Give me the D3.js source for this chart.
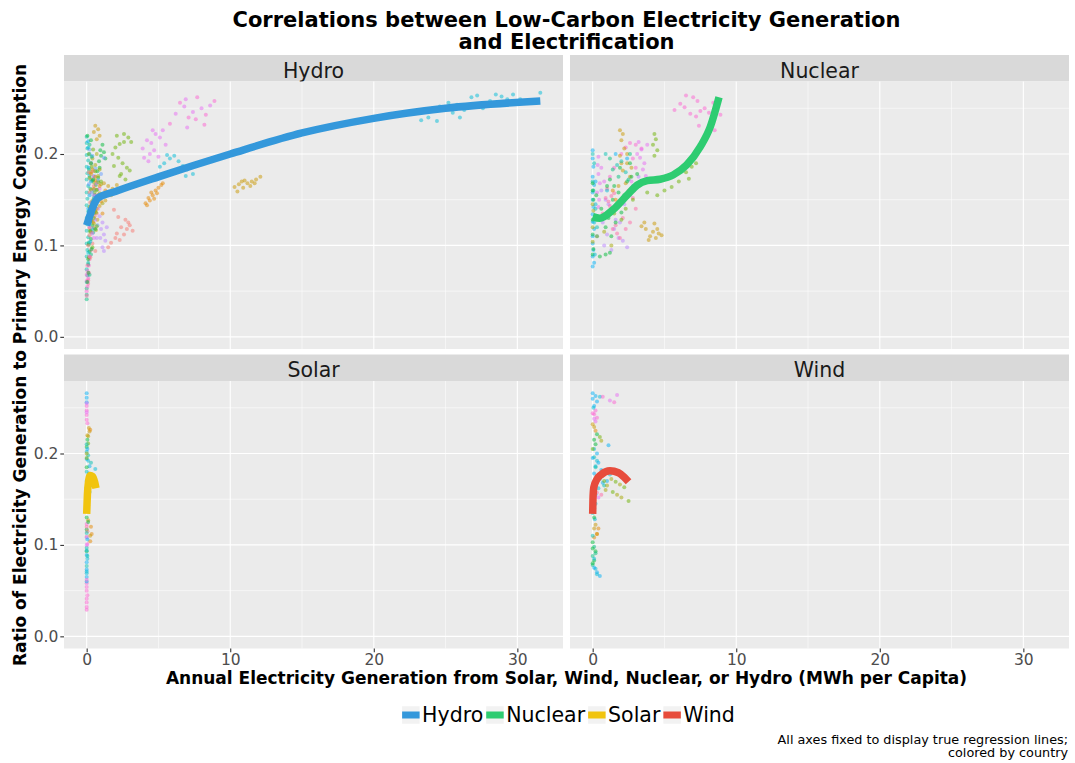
<!DOCTYPE html>
<html>
<head>
<meta charset="utf-8">
<script src="https://cdn.jsdelivr.net/npm/d3@7"></script>
<style>
  body { margin: 0; background: #ffffff; }
  svg { display: block; font-family: "DejaVu Sans", sans-serif; }
</style>
</head>
<body>
<svg id="chart" width="1075" height="763"></svg>
<script>
// ---- data -------------------------------------------------------------
// Country colour palette (15-level hue palette, one colour per country)
const countryColors = ["#F8766D", "#E58700", "#C99800", "#A3A500", "#6BB100",
  "#00BA38", "#00BF7D", "#00C0AF", "#00BCD8", "#00B0F6",
  "#619CFF", "#B983FF", "#E76BF3", "#FD61D1", "#FF67A4"];

const sources = ["Hydro", "Nuclear", "Solar", "Wind"];
const sourceColors = ["#3498DB", "#2ECC71", "#F1C40F", "#E74C3C"];

const xTicks = [0, 10, 20, 30];
const xMinor = [5, 15, 25];
const yTicks = [0.0, 0.1, 0.2];
const yMinor = [0.05, 0.15, 0.25];

// Observations: [country colour index, MWh per capita, ratio]
const hydroPoints = [
  [7,0,0.219],[7,0,0.212],[7,0.05,0.206],[7,0,0.199],[7,0.1,0.193],[7,0,0.186],[7,0.05,0.179],[7,0,0.172],
  [7,0.1,0.165],[7,0,0.158],[7,0.05,0.151],[7,0,0.144],[7,0.1,0.137],[7,0,0.13],[7,0.05,0.123],[7,0,0.116],
  [7,0.1,0.109],[7,0,0.102],[7,0.05,0.095],[7,0,0.088],[7,0.1,0.081],[7,0,0.074],[7,0.05,0.067],[7,0,0.06],
  [6,0,0.053],[6,0,0.046],[6,0,0.041],
  [13,0,0.05],[13,0.05,0.055],[13,0,0.061],[13,0.1,0.064],[13,0,0.068],[13,0.05,0.072],[13,0.15,0.078],
  [14,0,0.045],[14,0.1,0.058],[14,0.2,0.085],[14,0.3,0.095],
  [5,0.1,0.085],[5,0.2,0.093],[5,0.15,0.101],[5,0.3,0.107],[5,0.25,0.116],[5,0.4,0.122],[5,0.35,0.127],
  [5,0.5,0.135],[5,0.42,0.141],[5,0.6,0.146],[5,0.55,0.155],[5,0.72,0.161],[5,0.63,0.166],[5,0.8,0.174],
  [5,0.74,0.181],[5,0.9,0.185],[5,0.86,0.192],[5,1.0,0.198],[5,0.95,0.204],[5,1.1,0.21],[5,1.2,0.202],[5,1.3,0.195],
  [3,0.4,0.195],[3,0.6,0.188],[3,0.3,0.18],[3,0.8,0.176],[3,0.5,0.169],[3,0.7,0.161],[3,0.9,0.157],
  [3,0.4,0.149],[3,1.1,0.146],[3,0.6,0.138],[3,0.3,0.131],[3,0.5,0.124],
  [2,0.6,0.231],[2,0.8,0.227],[2,0.5,0.224],[2,0.9,0.22],[2,0.7,0.216],[2,1.2,0.168],[2,1.5,0.165],
  [2,1.8,0.162],[2,2.1,0.166],[2,1.4,0.158],[2,1.7,0.155],[2,2.2,0.159],[2,1.0,0.152],[2,1.3,0.149],[2,0.9,0.143],
  [0,0.3,0.172],[0,0.5,0.165],[0,0.2,0.158],[0,0.6,0.15],[0,0.4,0.143],[0,0.7,0.135],[0,0.3,0.128],
  [0,0.5,0.119],[0,0.2,0.111],[0,0.4,0.102],[0,0.6,0.094],
  [0,1.5,0.098],[0,1.7,0.103],[0,2.0,0.108],[0,2.3,0.106],[0,2.1,0.113],[0,2.6,0.112],[0,2.8,0.118],
  [0,2.4,0.12],[0,2.9,0.125],[0,2.2,0.131],[0,2.7,0.128],[0,3.0,0.122],[0,1.9,0.139],[0,3.2,0.116],
  [10,0.2,0.205],[10,0.4,0.198],[10,0.3,0.19],[10,0.6,0.184],[10,0.5,0.176],[10,0.8,0.171],[10,1.2,0.196],[10,1.0,0.178],
  [9,0.1,0.214],[9,0.2,0.2],[9,0.15,0.185],[9,0.3,0.17],[9,0.2,0.155],[9,0.1,0.14],[9,0.25,0.125],
  [11,0.9,0.132],[11,1.1,0.125],[11,1.0,0.118],[11,1.2,0.112],[11,1.3,0.105],[11,1.1,0.098],[11,0.8,0.14],
  [11,1.4,0.12],[11,0.7,0.108],
  [12,0.5,0.175],[12,0.7,0.168],[12,0.6,0.155],[12,0.9,0.162],[12,0.4,0.145],
  [6,0.2,0.21],[6,0.35,0.197],[6,0.15,0.183],[6,0.4,0.171],[6,0.25,0.162],[6,0.5,0.152],[6,0.3,0.139],
  [6,0.2,0.126],[6,0.45,0.114],[6,0.15,0.103],[6,0.3,0.09],[6,0.1,0.079],[6,0.2,0.068],
  [8,0.1,0.207],[8,0.3,0.19],[8,0.2,0.176],[8,0.5,0.161],[8,0.35,0.147],[8,0.15,0.133],[8,0.4,0.118],
  [8,0.25,0.104],[8,0.1,0.092],
  [4,0.15,0.2],[4,0.45,0.205],[4,0.35,0.186],[4,0.2,0.174],[4,0.55,0.158],[4,0.3,0.143],[4,0.65,0.136],
  [4,0.25,0.115],[4,0.4,0.098],[4,0.15,0.087],
  [3,0.7,0.2],[3,0.9,0.183],[3,1.0,0.167],[3,0.85,0.152],[3,0.2,0.142],[3,0.65,0.117],
  [2,0.4,0.183],[2,0.6,0.175],[2,0.3,0.161],[2,0.55,0.138],[2,0.75,0.128],
  [0,0.15,0.18],[0,0.45,0.181],[0,0.25,0.147],[0,0.55,0.132],[0,0.35,0.114],[0,0.1,0.1],[0,0.25,0.087],
  [1,0.3,0.178],[1,0.6,0.171],[1,0.9,0.165],[1,0.45,0.126],[1,0.2,0.119],
  [10,0.15,0.167],[10,0.35,0.158],[10,0.6,0.142],[10,0.25,0.131],[10,0.75,0.122],
  [11,0.5,0.155],[11,0.6,0.128],[11,0.95,0.108],[11,1.2,0.094],[11,0.4,0.113],
  [12,0.3,0.137],[12,0.2,0.12],[12,0.5,0.108],[12,0.8,0.15],
  [14,0.05,0.078],[14,0.15,0.07],[14,0.1,0.062],[13,0.2,0.088],
  [5,0.05,0.22],[5,0.3,0.215],[5,0.45,0.172],[5,0.7,0.149],[5,0.2,0.137],[5,0.6,0.118],[5,0.35,0.096],
  [5,0.12,0.07],[5,0.05,0.06],
  [12,3.9,0.206],[12,4.2,0.215],[12,4.5,0.212],[12,4.8,0.222],[12,4.4,0.2],[12,5.1,0.218],[12,5.5,0.21],
  [12,4.0,0.196],[12,4.7,0.204],[12,5.3,0.226],[12,4.3,0.192],[12,5.0,0.197],[12,4.6,0.226],
  [1,0.5,0.162],[1,0.8,0.155],[1,1.0,0.148],[1,0.7,0.14],[1,1.3,0.16],[1,1.1,0.135],
  [1,4.1,0.146],[1,4.3,0.152],[1,4.6,0.155],[1,4.8,0.16],[1,5.0,0.163],[1,4.4,0.149],[1,4.9,0.157],
  [1,5.2,0.166],[1,4.2,0.144],[1,4.7,0.151],[1,5.3,0.168],[1,4.5,0.158],
  [4,1.8,0.2],[4,2.0,0.207],[4,2.3,0.211],[4,2.6,0.213],[4,2.9,0.218],[4,3.1,0.213],[4,2.2,0.196],[4,2.5,0.19],
  [4,2.8,0.185],[4,2.4,0.178],[4,2.7,0.172],[4,3.0,0.182],[4,2.1,0.22],[4,2.6,0.222],[4,1.9,0.187],[4,2.3,0.176],
  [4,0.3,0.19],[4,0.6,0.181],[4,0.8,0.169],[4,1.0,0.17],[4,0.5,0.13],[4,0.7,0.121],
  [8,5.1,0.186],[8,5.4,0.19],[8,5.8,0.195],[8,6.1,0.198],[8,6.4,0.192],[8,6.7,0.187],[8,7.0,0.183],
  [8,7.4,0.178],[8,6.0,0.181],[8,6.9,0.176],[8,5.6,0.199],[8,7.2,0.186],
  [13,5.8,0.233],[12,6.2,0.244],[13,6.5,0.256],[12,6.8,0.252],[13,7.1,0.24],[12,7.4,0.246],[13,7.7,0.262],
  [12,8.0,0.25],[13,8.3,0.243],[12,8.6,0.253],[13,8.9,0.258],[12,7.0,0.229],[13,8.2,0.232],[12,6.9,0.26],[13,7.6,0.238],
  [2,10.3,0.164],[2,10.6,0.167],[2,10.9,0.163],[2,11.2,0.168],[2,11.5,0.17],[2,11.8,0.172],[2,12.1,0.175],
  [2,10.5,0.159],[2,11.0,0.171],[2,11.4,0.165],[2,11.7,0.168],[2,10.8,0.17],
  [8,23.3,0.237],[8,23.8,0.24],[8,24.1,0.25],[8,24.6,0.252],[8,25.2,0.256],[8,25.5,0.245],[8,25.8,0.254],
  [8,26.3,0.248],[8,26.8,0.262],[8,27.2,0.264],[8,27.6,0.25],[8,28.1,0.258],[8,28.5,0.265],[8,28.9,0.263],
  [8,29.3,0.26],[8,29.7,0.265],[8,30.2,0.26],[8,26.0,0.24],[8,24.4,0.236],[8,31.6,0.267]
];

const nuclearPoints = [
  [9,0,0.204],[9,0,0.195],[9,0.05,0.186],[9,0,0.175],[9,0.1,0.166],[9,0,0.158],[9,0,0.15],[9,0.05,0.142],
  [9,0,0.134],[9,0,0.126],[9,0.1,0.118],[9,0,0.11],[9,0,0.102],[9,0.05,0.095],[9,0,0.088],[9,0.1,0.081],[9,0,0.077],
  [7,0,0.2],[7,0.1,0.19],[7,0,0.17],[7,0.05,0.16],
  [5,0,0.168],[5,0,0.16],[5,0.05,0.15],[3,0,0.145],[3,0.05,0.138],[5,0,0.128],[3,0,0.12],[5,0,0.112],
  [3,0,0.104],[5,0.05,0.096],[5,0,0.09],
  [9,0.2,0.17],[9,0.15,0.13],[9,0.3,0.11],[8,0.1,0.125],[8,0.2,0.145],[8,0.15,0.09],[7,0.2,0.14],[7,0.3,0.12],
  [12,0.4,0.197],[12,0.35,0.188],[12,0.4,0.178],[12,0.5,0.168],[12,0.3,0.158],[12,0.45,0.15],[12,0.4,0.142],
  [11,0.6,0.16],[11,0.9,0.15],[11,1.2,0.138],[11,0.7,0.125],[11,1.5,0.118],[11,1.0,0.112],[11,1.8,0.108],
  [11,2.1,0.105],[11,0.8,0.1],[11,1.3,0.095],[11,2.4,0.098],[11,1.6,0.128],[11,2.2,0.145],[11,2.6,0.155],
  [11,0.4,0.13],[11,1.1,0.145],[11,1.9,0.125],[11,2.8,0.165],[11,3.2,0.175],
  [14,0.9,0.152],[14,1.1,0.148],[14,1.3,0.154],[14,1.5,0.157],[14,1.2,0.143],[14,2.5,0.16],[14,2.8,0.152],
  [14,1.4,0.118],[14,1.7,0.113],[14,1.9,0.108],[14,1.6,0.122],[14,2.1,0.13],[14,3.0,0.14],
  [14,0.7,0.135],[14,1.0,0.162],[14,2.3,0.118],[14,2.6,0.125],[14,1.8,0.145],
  [13,2.0,0.2],[13,2.3,0.207],[13,2.6,0.212],[13,3.0,0.21],[13,3.4,0.206],
  [13,1.2,0.175],[13,1.5,0.185],[13,2.8,0.195],[13,3.0,0.185],
  [12,3.2,0.213],[12,3.4,0.205],[12,3.3,0.196],[12,3.6,0.19],[12,3.5,0.183],[12,3.7,0.176],[12,3.1,0.2],[12,3.8,0.21],
  [12,0.6,0.185],[12,0.8,0.17],[12,2.7,0.17],[12,2.9,0.16],
  [2,1.9,0.226],[2,2.1,0.222],[2,2.0,0.215],[2,2.2,0.206],[2,1.9,0.198],[2,2.4,0.19],[2,2.1,0.182],[2,2.6,0.175],[2,2.3,0.168],
  [2,2.4,0.2],[2,2.0,0.19],[2,2.7,0.185],[2,1.8,0.165],
  [2,3.4,0.121],[2,3.7,0.118],[2,4.0,0.11],[2,4.2,0.115],[2,4.4,0.108],[2,4.6,0.113],[2,4.8,0.111],
  [2,3.9,0.106],[2,4.3,0.124],[2,4.5,0.118],[2,3.6,0.125],
  [4,4.3,0.222],[4,4.4,0.216],[4,4.2,0.21],[4,4.5,0.204],[4,4.3,0.198],
  [4,3.2,0.165],[4,3.8,0.158],[4,4.5,0.155],[4,5.0,0.16],[4,5.5,0.164],[4,6.0,0.17],[4,6.5,0.18],
  [4,6.9,0.186],[4,7.2,0.19],[4,6.7,0.173],[4,2.8,0.15],[4,2.3,0.14],
  [4,0.8,0.13],[4,1.5,0.135],[4,2.0,0.128],[4,3.5,0.168],[4,4.0,0.172],
  [5,1.2,0.172],[5,1.5,0.165],[5,1.8,0.158],[5,1.4,0.15],[5,1.7,0.143],[5,2.0,0.136],[5,1.1,0.13],
  [5,1.6,0.125],[5,2.4,0.17],[5,2.7,0.175],[5,3.1,0.178],[5,0.5,0.088],[5,0.9,0.09],[5,1.2,0.092],
  [5,0.25,0.155],[5,0.6,0.14],[5,0.9,0.12],[5,1.3,0.11],[5,2.2,0.155],[5,1.0,0.165],[5,1.9,0.185],[5,2.6,0.19],
  [3,0.3,0.11],[3,0.8,0.115],[3,1.3,0.1],
  [7,1.7,0.188],[7,2.0,0.192],[7,2.3,0.18],[6,2.5,0.172],[7,0.9,0.2],[6,1.4,0.183],
  [6,1.2,0.195],[6,1.8,0.175],[6,2.6,0.2],[1,1.4,0.16],[1,1.6,0.15],
  [9,1.6,0.2],[9,2.4,0.195],[8,1.0,0.16],
  [13,5.7,0.248],[13,6.1,0.255],[13,6.4,0.251],[13,6.8,0.244],[13,7.2,0.241],[13,7.5,0.247],[13,7.8,0.25],
  [13,8.1,0.245],[13,8.4,0.256],[13,8.7,0.252],[13,8.9,0.243],[13,7.4,0.231],[13,8.2,0.233],[13,8.5,0.226],
  [13,7.0,0.262],[13,6.5,0.264],[13,7.3,0.258]
];

const solarPoints = [
  [9,0,0.266],[9,0,0.261],[9,0,0.256],[13,0,0.252],[13,0,0.247],[13,0,0.242],[13,0,0.237],[13,0.05,0.233],
  [2,0.15,0.228],[2,0.2,0.224],[1,0.25,0.226],[3,0.1,0.219],[5,0.05,0.215],[4,0.1,0.211],[5,0,0.207],
  [8,0,0.202],[7,0.1,0.198],[9,0,0.194],[7,0.3,0.19],[8,0.6,0.183],[9,0.2,0.186],[7,0,0.18],[8,0.1,0.176],
  [9,0,0.17],[7,0.4,0.165],[8,0.2,0.158],[9,0,0.15],[7,0.45,0.167],
  [7,0,0.21],[9,0.05,0.205],[8,0.1,0.192],[9,0.15,0.178],[7,0.2,0.173],[8,0,0.163],[5,0,0.185],[3,0,0.2],
  [2,0.05,0.22],[4,0,0.195],[9,0.1,0.143],[8,0,0.138],[12,0,0.245],[12,0,0.255],
  [5,0,0.13],[2,0.1,0.127],[13,0,0.123],[1,0.3,0.12],[5,0,0.117],[1,0.35,0.112],[14,0,0.109],[1,0.25,0.104],
  [13,0.05,0.101],[7,0,0.097],[5,0,0.093],[9,0,0.089],[8,0.05,0.085],[9,0,0.081],[7,0,0.077],[9,0,0.073],
  [8,0,0.069],[9,0,0.065],[13,0,0.058],[13,0,0.054],[13,0,0.05],[13,0,0.041],[13,0,0.037],[13,0,0.032],
  [13,0,0.029],[0,0.05,0.115],[11,0,0.108],[12,0,0.1],
  [7,0,0.113],[9,0.05,0.106],[8,0,0.094],[7,0.05,0.088],[9,0,0.06],[8,0,0.071],[13,0,0.062],[13,0.05,0.045],
  [14,0,0.12],[5,0.1,0.125],[2,0.25,0.11]
];

const windPoints = [
  [9,0,0.266],[9,0.2,0.263],[8,0.5,0.262],[9,0.3,0.257],[13,0.7,0.262],[12,1.2,0.258],[13,1.5,0.256],
  [12,1.7,0.264],[9,0.1,0.252],[13,0.2,0.247],[13,0.1,0.243],[13,0.3,0.239],[12,0.2,0.235],[2,0.1,0.229],
  [1,0.2,0.225],[5,0.3,0.221],[4,0.5,0.218],[3,0.6,0.214],[5,0.2,0.21],[9,1.1,0.209],[8,0.1,0.205],
  [9,0.3,0.2],[7,0.1,0.196],[9,0.4,0.19],[8,0.2,0.186],[9,0.6,0.182],[7,0.9,0.18],[8,1.2,0.177],
  [9,0.5,0.174],[3,1.3,0.172],[4,1.6,0.169],[3,1.9,0.166],[4,2.2,0.163],[3,0.9,0.16],[4,1.4,0.158],
  [3,2.0,0.152],[4,2.5,0.148],[3,1.7,0.155],[14,0.3,0.157],[14,0.6,0.155],[12,0.4,0.152],[9,0.7,0.168],
  [8,0.2,0.145],[9,0.1,0.14],[7,0,0.135],[8,0.15,0.128],[2,0.2,0.122],[1,0.4,0.118],[2,0.3,0.112],
  [1,0.1,0.108],[5,0,0.103],[6,0.1,0.098],[5,0.2,0.093],[6,0,0.088],[5,0.1,0.083],[6,0,0.078],
  [8,0.2,0.074],[9,0.3,0.07],[9,0.5,0.066],
  [9,0,0.26],[8,0.05,0.25],[13,0,0.244],[12,0.1,0.238],[2,0,0.232],[5,0.1,0.215],[4,0,0.205],[9,0,0.195],
  [8,0.3,0.192],[7,0.2,0.185],[9,0.1,0.178],[8,0.5,0.172],[7,0.8,0.165],[9,1.0,0.17],[8,0.4,0.162],
  [9,0.2,0.155],[6,0,0.15],[5,0.1,0.13],[2,0.1,0.118],[1,0.3,0.112],[5,0,0.096],[6,0.2,0.091],[5,0,0.08],
  [8,0.1,0.085],[9,0.1,0.075],[8,0.3,0.068],[7,0,0.11],[3,1.0,0.165],[4,0.8,0.17]
];

// Fitted regression curves: [MWh per capita, ratio]
const hydroFit = [[0,0.122],[0.8,0.152],[2,0.159],[5,0.175],[10,0.2],[15,0.223],[20,0.239],[25,0.25],[31.6,0.258]];
const nuclearFit = [[0,0.1315],[0.5,0.1297],[1.4,0.1388],[2.4,0.155],[3.1,0.166],[3.8,0.1708],[4.7,0.1724],
  [5.6,0.177],[6.55,0.188],[7.5,0.208],[8.2,0.23],[8.8,0.262]];
const solarFit = [[0,0.134],[0.05,0.155],[0.12,0.168],[0.25,0.176],[0.4,0.175],[0.55,0.169],[0.65,0.162]];
const windFit = [[0,0.134],[0.02,0.15],[0.08,0.163],[0.3,0.172],[0.6,0.177],[1.2,0.181],[1.8,0.179],[2.2,0.174],[2.5,0.169]];

const facetPoints = [hydroPoints, nuclearPoints, solarPoints, windPoints];
const facetFits = [hydroFit, nuclearFit, solarFit, windFit];

// ---- layout ------------------------------------------------------------
const svg = d3.select("#chart");
svg.append("rect").attr("width", 1075).attr("height", 763).attr("fill", "#ffffff");

const cols = [[64, 563], [570, 1069]];
const rows = [{ strip: 55, top: 81.5, bottom: 349 }, { strip: 354.5, top: 381, bottom: 648.5 }];
const xDomain = [-1.58, 33.18];
const yDomain = [-0.0133, 0.2793];
const tickLen = 3.7;

sources.forEach((name, i) => {
  const col = cols[i % 2];
  const row = rows[Math.floor(i / 2)];
  const x = d3.scaleLinear().domain(xDomain).range(col);
  const y = d3.scaleLinear().domain(yDomain).range([row.bottom, row.top]);
  const g = svg.append("g");

  // strip
  g.append("rect").attr("x", col[0]).attr("y", row.strip)
    .attr("width", col[1] - col[0]).attr("height", row.top - row.strip).attr("fill", "#D9D9D9");
  g.append("text").attr("x", (col[0] + col[1]) / 2).attr("y", row.strip + 22.5)
    .attr("text-anchor", "middle").attr("font-size", 20.5).attr("fill", "#1A1A1A").text(name);

  // panel background and grid
  g.append("rect").attr("x", col[0]).attr("y", row.top)
    .attr("width", col[1] - col[0]).attr("height", row.bottom - row.top).attr("fill", "#EBEBEB");
  const grid = g.append("g").attr("stroke", "#ffffff");
  grid.selectAll("line.xm").data(xMinor).join("line")
    .attr("x1", d => x(d)).attr("x2", d => x(d)).attr("y1", row.top).attr("y2", row.bottom).attr("stroke-width", 0.55);
  grid.selectAll("line.ym").data(yMinor).join("line")
    .attr("y1", d => y(d)).attr("y2", d => y(d)).attr("x1", col[0]).attr("x2", col[1]).attr("stroke-width", 0.55);
  grid.selectAll("line.xM").data(xTicks).join("line")
    .attr("x1", d => x(d)).attr("x2", d => x(d)).attr("y1", row.top).attr("y2", row.bottom).attr("stroke-width", 1.1);
  grid.selectAll("line.yM").data(yTicks).join("line")
    .attr("y1", d => y(d)).attr("y2", d => y(d)).attr("x1", col[0]).attr("x2", col[1]).attr("stroke-width", 1.1);

  // points coloured by country
  const clip = "clip" + i;
  svg.append("clipPath").attr("id", clip).append("rect")
    .attr("x", col[0]).attr("y", row.top).attr("width", col[1] - col[0]).attr("height", row.bottom - row.top);
  const plot = g.append("g").attr("clip-path", `url(#${clip})`);
  plot.append("g").selectAll("circle").data(facetPoints[i]).join("circle")
    .attr("cx", d => x(d[1])).attr("cy", d => y(d[2])).attr("r", 2)
    .attr("fill", d => countryColors[d[0]]).attr("fill-opacity", 0.5);

  // regression curve
  plot.append("path").datum(facetFits[i])
    .attr("d", d3.line().x(d => x(d[0])).y(d => y(d[1])).curve(d3.curveMonotoneX))
    .attr("fill", "none").attr("stroke", sourceColors[i]).attr("stroke-width", 7.5)
    .attr("stroke-linejoin", "round");

  // axes
  if (i % 2 === 0) {
    const ay = g.append("g").attr("transform", `translate(${col[0]},0)`)
      .call(d3.axisLeft(y).tickValues(yTicks).tickFormat(d3.format(".1f")).tickSize(tickLen).tickPadding(2));
    ay.select(".domain").remove();
    ay.selectAll(".tick line").attr("stroke", "#333333").attr("stroke-width", 1.1);
    ay.selectAll(".tick text").attr("fill", "#4D4D4D").attr("font-size", 15.5)
      .attr("font-family", "DejaVu Sans, sans-serif");
  }
  if (Math.floor(i / 2) === 1) {
    const ax = g.append("g").attr("transform", `translate(0,${row.bottom})`)
      .call(d3.axisBottom(x).tickValues(xTicks).tickFormat(d3.format("d")).tickSize(tickLen).tickPadding(2));
    ax.select(".domain").remove();
    ax.selectAll(".tick line").attr("stroke", "#333333").attr("stroke-width", 1.1);
    ax.selectAll(".tick text").attr("fill", "#4D4D4D").attr("font-size", 15.5)
      .attr("font-family", "DejaVu Sans, sans-serif");
  }
});

// ---- titles ------------------------------------------------------------
const midX = (cols[0][0] + cols[1][1]) / 2;
const title = svg.append("text").attr("text-anchor", "middle").attr("font-size", 21)
  .attr("font-weight", "bold").attr("fill", "#000000");
title.append("tspan").attr("x", midX).attr("y", 26.5).text("Correlations between Low-Carbon Electricity Generation");
title.append("tspan").attr("x", midX).attr("y", 48.5).text("and Electrification");

svg.append("text").attr("x", midX).attr("y", 684).attr("text-anchor", "middle")
  .attr("font-size", 17).attr("font-weight", "bold").attr("fill", "#000000")
  .text("Annual Electricity Generation from Solar, Wind, Nuclear, or Hydro (MWh per Capita)");

svg.append("text").attr("transform", `translate(26,${(rows[0].top + rows[1].bottom) / 2}) rotate(-90)`)
  .attr("text-anchor", "middle").attr("font-size", 17).attr("font-weight", "bold").attr("fill", "#000000")
  .text("Ratio of Electricity Generation to Primary Energy Consumption");

// ---- legend ------------------------------------------------------------
const legend = svg.append("g");
const keySize = 17.5, legendY = 715;
const items = sources.map((s, i) => {
  const it = legend.append("g");
  it.append("rect").attr("y", legendY - keySize / 2).attr("width", keySize).attr("height", keySize).attr("fill", "#F2F2F2");
  it.append("line").attr("x1", 0).attr("x2", keySize).attr("y1", legendY).attr("y2", legendY)
    .attr("stroke", sourceColors[i]).attr("stroke-width", 7);
  const t = it.append("text").attr("x", keySize + 2.5).attr("y", legendY).attr("dy", "0.36em")
    .attr("font-size", 20.5).attr("fill", "#000000").text(s);
  return { it, w: keySize + 2.5 + t.node().getComputedTextLength() };
});
const gap = 3;
const totalW = d3.sum(items, d => d.w) + gap * (items.length - 1);
let cx = midX + 2 - totalW / 2;
items.forEach(d => { d.it.attr("transform", `translate(${cx},0)`); cx += d.w + gap; });

// ---- caption -----------------------------------------------------------
const cap = svg.append("text").attr("text-anchor", "end").attr("font-size", 12.8).attr("fill", "#000000");
cap.append("tspan").attr("x", 1068).attr("y", 744).text("All axes fixed to display true regression lines;");
cap.append("tspan").attr("x", 1068).attr("y", 757).text("colored by country");
</script>
</body>
</html>
